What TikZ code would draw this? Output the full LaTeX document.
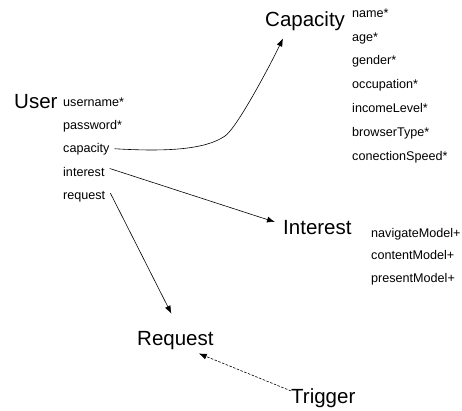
\documentclass[tikz,border=0pt]{standalone}
\usepackage{fontspec}
\setmainfont{Liberation Sans}
\usetikzlibrary{arrows.meta,calc}
\begin{document}
\begin{tikzpicture}[x=1pt,y=-1pt,
  entity/.style={anchor=base west,inner sep=1pt,font=\fontsize{20.5}{24}\selectfont},
  attr/.style={anchor=base west,inner sep=1pt,font=\fontsize{12.6}{15}\selectfont},
  link/.style={line width=0.6pt,-{Latex[length=8pt,width=6pt]}},
  dashlink/.style={line width=0.6pt,dash pattern=on 2.5pt off 1.5pt,-{Latex[length=8pt,width=6pt]}}]
\useasboundingbox (0,0) rectangle (462,411);

% User and its attributes
\node[entity] (user) at (13,109) {User};
\node[attr] (username) at (62,107) {username*};
\node[attr] (password) at (62,130) {password*};
\node[attr] (capacity) at (62,153) {capacity};
\node[attr] (interest) at (62,177) {interest};
\node[attr] (request) at (62,200) {request};

% Capacity and its attributes
\node[entity] (Capacity) at (264,27) {Capacity};
\node[attr] (name) at (351,18) {name*};
\node[attr] (age) at (351,42) {age*};
\node[attr] (gender) at (351,65) {gender*};
\node[attr] (occupation) at (351,89) {occupation*};
\node[attr] (incomeLevel) at (351,113) {incomeLevel*};
\node[attr] (browserType) at (351,137) {browserType*};
\node[attr] (conectionSpeed) at (351,161) {conectionSpeed*};

% Interest and its attributes
\node[entity] (Interest) at (282,235) {Interest};
\node[attr] (navigateModel) at (370,237) {navigateModel+};
\node[attr] (contentModel) at (370,259) {contentModel+};
\node[attr] (presentModel) at (370,282) {presentModel+};

% Request and Trigger
\node[entity] (Request) at (136,345) {Request};
\node[entity] (Trigger) at (290,403) {Trigger};

% Anchor points of the connectors
\coordinate (capStart) at ($(capacity.east)+(4,-1)$);
\coordinate (capBend) at (225,136);
\coordinate (capEnd) at ($(Capacity.south west)+(19,6)$);
\coordinate (intStart) at ($(interest.east)+(4,-4)$);
\coordinate (intEnd) at ($(Interest.west)+(-7,-6)$);
\coordinate (reqStart) at ($(request.east)+(4,-4)$);
\coordinate (reqEnd) at ($(Request.north)+(-4,-16)$);
\coordinate (trigStart) at ($(Trigger.north west)+(1,4)$);
\coordinate (trigEnd) at ($(Request.south east)+(-16,3)$);

% Connectors
\draw[link] (capStart) .. controls +(50,3) and +(-20,14) .. (capBend)
  .. controls +(12,-8) and +(-12,25) .. (capEnd);
\draw[link] (intStart) -- (intEnd);
\draw[link] (reqStart) -- (reqEnd);
\draw[dashlink] (trigStart) -- (trigEnd);
\end{tikzpicture}
\end{document}
